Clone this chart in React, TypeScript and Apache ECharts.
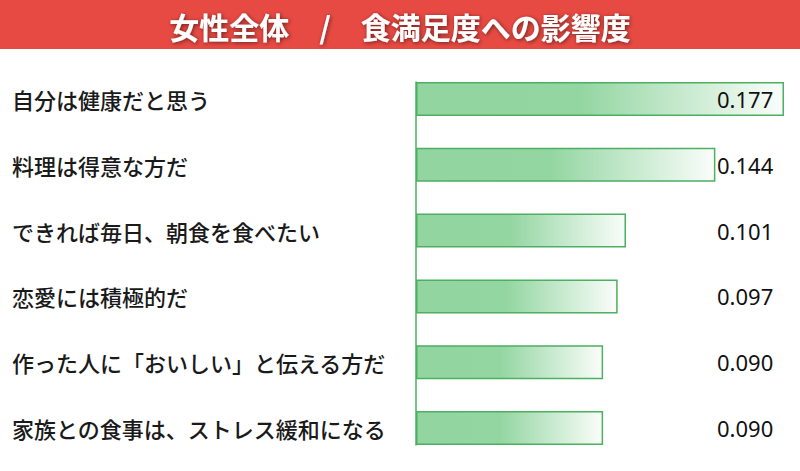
import React, { useEffect, useRef } from 'react';
import * as echarts from 'echarts';

const titleText = '女性全体　/　食満足度への影響度';
const categories = [
  '自分は健康だと思う',
  '料理は得意な方だ',
  'できれば毎日、朝食を食べたい',
  '恋愛には積極的だ',
  '作った人に「おいしい」と伝える方だ',
  '家族との食事は、ストレス緩和になる',
];
const values = [0.177, 0.144, 0.101, 0.097, 0.09, 0.09];

export default function App() {
  const chartRef = useRef<HTMLDivElement>(null);

  useEffect(() => {
    if (!chartRef.current) return;
    const chart = echarts.init(chartRef.current, null, { renderer: 'svg' });

    const option = {
      animation: false,
      backgroundColor: '#ffffff',
      graphic: [
        {
          type: 'rect',
          left: 0,
          top: 0,
          shape: { width: 800, height: 49 },
          style: { fill: '#E74A43' },
          z: 0,
        },
      ],
      title: {
        text: titleText,
        left: 'center',
        top: 6,
        textStyle: {
          color: '#ffffff',
          fontSize: 30,
          fontWeight: 'bold',
          fontFamily: 'Noto Sans CJK JP',
          textShadowColor: 'rgba(0,0,0,0.55)',
          textShadowBlur: 4,
          textShadowOffsetX: 1,
          textShadowOffsetY: 1,
        },
      },
      grid: [
        { left: 416, right: 16, top: 66, bottom: 10 },
        { left: 416, right: 16, top: 82, bottom: 26 },
      ],
      xAxis: [
        { type: 'value', min: 0, max: 0.177, show: false, gridIndex: 0 },
        { type: 'value', show: false, gridIndex: 1 },
      ],
      yAxis: [
        {
          type: 'category',
          data: categories,
          inverse: true,
          gridIndex: 0,
          axisLine: { show: false },
          axisTick: { show: false },
          axisLabel: {
            align: 'left',
            margin: 404,
            fontSize: 22,
            fontWeight: 500,
            color: '#1a1a1a',
            fontFamily: 'Noto Sans CJK JP',
          },
        },
        {
          type: 'value',
          gridIndex: 1,
          axisLine: { show: true, onZero: false, lineStyle: { color: '#4CAF62', width: 1.5 } },
          axisTick: { show: false },
          axisLabel: { show: false },
          splitLine: { show: false },
        },
      ],
      series: [
        {
          type: 'bar',
          data: values,
          barWidth: 34,
          xAxisIndex: 0,
          yAxisIndex: 0,
          itemStyle: {
            color: new echarts.graphic.LinearGradient(0, 0, 1, 0, [
              { offset: 0, color: '#92D5A0' },
              { offset: 0.45, color: '#94D6A2' },
              { offset: 1, color: '#FAFDFA' },
            ]),
            borderColor: '#4CAF62',
            borderWidth: 1.5,
          },
          label: {
            show: true,
            position: [301, '50%'],
            align: 'left',
            verticalAlign: 'middle',
            fontSize: 22,
            color: '#111111',
            fontFamily: 'Noto Sans',
            formatter: (p: any) => Number(p.value).toFixed(3),
          },
        },
      ],
    };

    chart.setOption(option);
    return () => chart.dispose();
  }, []);

  return (
    <div
      ref={chartRef}
      style={{ position: 'fixed', left: 0, top: 0, width: '800px', height: '471px' }}
    />
  );
}
